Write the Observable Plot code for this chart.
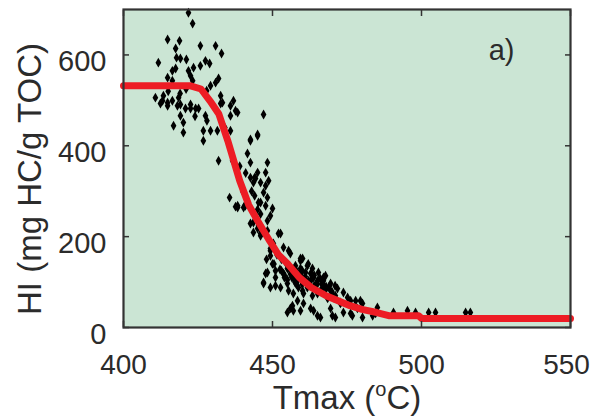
<!DOCTYPE html>
<html>
<head>
<meta charset="utf-8">
<script src="https://cdn.jsdelivr.net/npm/d3@7"></script>
<script src="https://cdn.jsdelivr.net/npm/@observablehq/plot@0.6"></script>
<style>
  html, body { margin: 0; padding: 0; background: #fff; }
  svg { display: block; }
</style>
</head>
<body>
<div id="chart"></div>
<script>
// Measured samples: Tmax (°C) and HI (mg HC/g TOC)
const sampleTmax = [
  421.8,423.2,414.8,418.8,417.5,425.8,430.9,432.9,411.7,417.8,419.1,421.1,417.5,416.4,421.8,422.5,423.2,423.5,425.8,427.5,
  428.9,414.8,416.4,430.9,431.9,429.2,427.9,410.7,413.1,413.4,414.8,416.4,418.5,419.1,420.8,422.5,424.2,432.6,433.2,435.9,
  437.6,436.9,412.4,414.8,418.1,419.1,420.1,416.8,420.1,422.5,425.2,427.5,426.8,429.2,431.5,432.6,435.9,438.3,447.0,426.8,
  431.9,436.6,442.6,445.0,441.6,442.6,448.3,445.0,447.7,442.6,444.3,446.0,447.7,447.0,448.3,435.6,437.6,440.3,446.0,447.7,
  435.9,442.6,445.0,448.7,443.6,438.3,440.9,450.0,443.6,445.3,448.3,446.0,452.0,449.3,455.4,449.3,459.4,438.3,440.9,445.3,
  442.6,443.6,446.0,445.0,448.3,449.3,452.7,450.3,453.7,449.3,456.0,459.4,448.3,451.0,447.0,449.3,452.7,455.0,453.7,457.7,
  461.7,462.8,458.4,465.1,467.1,469.5,471.8,475.2,477.9,457.0,460.1,465.1,468.5,472.8,458.4,456.0,457.0,462.8,466.1,470.1,
  476.2,478.5,460.4,463.8,461.7,467.1,457.7,459.4,461.1,456.0,454.4,463.4,465.4,467.8,464.4,462.1,458.7,455.4,466.1,469.5,
  471.1,463.4,460.4,460.1,467.1,473.8,476.2,479.5,480.2,485.2,484.6,490.6,495.3,498.0,502.4,504.7,514.8,516.4,465.1,471.1,
  473.8,476.8,480.2,483.6,460.4,469.5,472.8,461.1,470.5,447.7,447.0,451.0,455.0,456.7,459.4,463.8,454.0,450.5,452.5,456.5,
  458.0,460.8,462.5,464.0,466.5,468.0,451.5,453.0,457.5,459.8,
  455.0,456.0,457.0,458.0,459.0,460.0,461.0,462.0,463.0,464.0,465.0,466.0,467.0,468.0,469.0,470.0,471.0,458.0,460.0,462.0,
  455.0,453.0,454.0,450.0,451.0,448.0,444.0,443.0,446.0,445.0,441.0,440.0,439.0,444.0,434.0,428.0,424.0,419.0,421.0,415.0
];
const sampleHI = [
  693,669,634,631,614,620,620,603,583,594,592,590,570,565,565,554,543,572,576,587,
  581,550,543,539,548,532,521,506,499,510,495,499,506,491,482,491,482,510,495,488,
  477,499,493,488,488,466,451,444,429,482,482,466,433,433,433,493,466,473,469,411,
  367,367,414,425,383,363,363,341,341,330,328,319,312,297,286,286,266,264,275,268,
  433,411,422,323,319,264,268,262,231,224,213,202,207,174,169,158,152,268,271,275,
  229,209,207,218,235,246,207,185,176,169,163,147,121,110,99,88,88,97,119,121,
  136,119,103,103,103,97,86,66,59,75,81,75,64,53,59,42,37,42,22,26,
  31,42,103,110,88,88,136,130,121,125,143,130,121,114,92,103,88,81,81,81,
  70,70,75,152,110,77,59,59,53,44,31,33,37,33,33,33,33,33,26,22,
  33,26,22,26,53,42,55,103,66,119,97,92,33,48,37,37,115,140,128,110,
  95,108,98,92,96,90,160,150,100,112,
  130,118,110,125,115,95,112,98,105,115,95,108,95,85,90,78,92,100,125,140,
  105,125,110,140,125,150,290,300,250,260,340,300,355,330,440,455,465,515,525,520
];

// Fitted red curve
const fitTmax = [400, 422.5, 426, 429, 432, 435, 439, 442, 445, 449, 452, 455, 459, 463, 468, 472, 476, 480, 485, 489, 499, 500, 550];
const fitHI   = [532, 532, 525, 499, 470, 411, 323, 270, 235, 191, 160, 141, 110, 88, 70, 59, 48, 40, 33, 26, 26, 20, 20];

const xTicks = [400, 450, 500, 550];
const xTicksInner = [400, 450, 500];
const xTicksEdge = [550];
const yTicks = [0, 200, 400, 600];
const panelLabel = "a)";
const xLabelMain = "Tmax (";
const xLabelSup = "o";
const xLabelEnd = "C)";
const yLabel = "HI (mg HC/g TOC)";

const samples = sampleTmax.map((t, i) => ({ t, hi: sampleHI[i] }));
const fit = fitTmax.map((t, i) => ({ t, hi: fitHI[i] }));

const textColor = "#2b2b2b";
const font = "'Liberation Sans', Arial, Helvetica, sans-serif";

const chart = Plot.plot({
  width: 592,
  height: 418,
  marginLeft: 123,
  marginRight: 22,
  marginTop: 9,
  marginBottom: 91,
  style: { fontFamily: font, color: textColor, background: "#fff" },
  x: { domain: [400, 550] },
  y: { domain: [0, 700] },
  marks: [
    Plot.frame({ fill: "#cbe5d4", stroke: null }),
    Plot.dot(samples, { x: "t", y: "hi", symbol: "diamond", r: 3, fill: "#000", stroke: null }),
    Plot.line(fit, { x: "t", y: "hi", stroke: "#ed1c24", strokeWidth: 7, strokeLinejoin: "round" }),
    Plot.axisX({ ticks: xTicksInner, anchor: "bottom", tickSize: 0, tickPadding: 27, fontSize: 28, label: null, tickFormat: d => String(d) }),
    Plot.axisX({ ticks: xTicksEdge, anchor: "bottom", tickSize: 0, tickPadding: 27, fontSize: 28, label: null, dx: -4, tickFormat: d => String(d) }),
    Plot.axisX({ ticks: xTicks, anchor: "bottom", tickSize: -6, text: null, label: null, stroke: "#333", strokeWidth: 1.5 }),
    Plot.axisX({ ticks: xTicks, anchor: "top", tickSize: -6, text: null, label: null, stroke: "#333", strokeWidth: 1.5 }),
    Plot.axisY({ ticks: yTicks, anchor: "left", tickSize: 0, tickPadding: 17, fontSize: 29, label: null, dy: 7, tickFormat: d => String(d) }),
    Plot.axisY({ ticks: yTicks, anchor: "left", tickSize: -6, text: null, label: null, stroke: "#333", strokeWidth: 1.5 }),
    Plot.axisY({ ticks: yTicks, anchor: "right", tickSize: -6, text: null, label: null, stroke: "#333", strokeWidth: 1.5 }),
    Plot.frame({ stroke: "#333", strokeWidth: 2.2 }),
    Plot.text([panelLabel], { frameAnchor: "top-right", dx: -56, dy: 30, fontSize: 29, fill: textColor, text: d => d, textAnchor: "end" })
  ]
});

const svg = d3.select(chart);
const xl = svg.append("text")
  .attr("x", 347).attr("y", 409)
  .attr("text-anchor", "middle")
  .attr("font-family", font).attr("font-size", 33).attr("fill", textColor);
xl.append("tspan").text(xLabelMain);
xl.append("tspan").attr("font-size", 20).attr("dy", -13).text(xLabelSup);
xl.append("tspan").attr("dy", 13).text(xLabelEnd);

svg.append("text")
  .attr("transform", "translate(41,179) rotate(-90)")
  .attr("text-anchor", "middle")
  .attr("font-family", font).attr("font-size", 33).attr("fill", textColor)
  .text(yLabel);

document.getElementById("chart").appendChild(chart);
</script>
</body>
</html>
